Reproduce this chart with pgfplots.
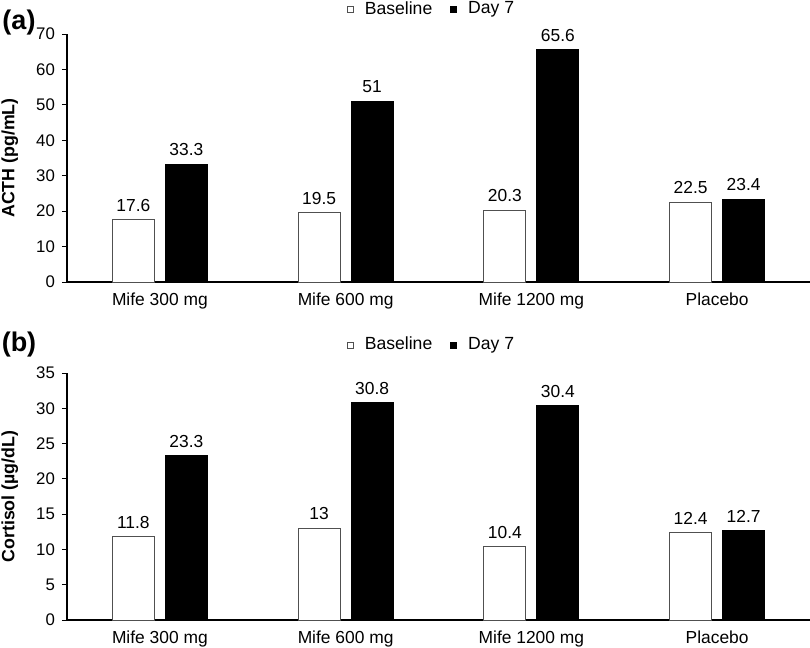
\documentclass[border=0pt]{standalone}
\usepackage{pgfplots}
\usepackage{pgfplotstable}
\pgfplotsset{compat=1.18}
\usepackage{fontspec}
\setmainfont{Liberation Sans}

\pgfplotstableread{
x base day
0 17.6 33.3
1 19.5 51
2 20.3 65.6
3 22.5 23.4
}\acth
\pgfplotstableread{
x base day
0 11.8 23.3
1 13 30.8
2 10.4 30.4
3 12.4 12.7
}\cortisol

\definecolor{edgegray}{RGB}{80,80,80}

\pgfplotsset{
  panel/.style={
    scale only axis,
    width=371.5pt,
    ybar=5.5pt, bar width=21pt,
    xmin=-0.5, xmax=3.5, ymin=0,
    axis x line*=bottom, axis y line*=left,
    axis line style={line width=0.6pt},
    clip=false,
    xtick={0,1,2,3},
    xticklabels={Mife 300 mg, Mife 600 mg, Mife 1200 mg, Placebo},
    x tick style={draw=none},
    y tick style={line width=0.5pt, black},
    tick align=outside, major tick length=2.5pt,
    yticklabel style={font=\fontsize{8.4}{10}\selectfont},
    xticklabel style={font=\fontsize{8.7}{10}\selectfont, yshift=0.5pt},
    /pgf/number format/assume math mode=true,
    nodes near coords,
    every node near coord/.append style={font=\fontsize{8.7}{10}\selectfont, yshift=0.5pt},
    ylabel style={at={(axis description cs:-0.077,0.5)}, anchor=center,
      font=\fontsize{8.9}{10}\selectfont\bfseries},
    legend columns=2,
    legend style={draw=none, fill=none, font=\fontsize{8.8}{10}\selectfont,
      anchor=center,
      /tikz/every odd column/.append style={column sep=3.5pt},
      /tikz/every even column/.append style={column sep=7pt}},
  },
  sq/.style={legend image code/.code={\draw[##1, line width=0.4pt] (0pt,-1.5pt) rectangle (3pt,1.5pt);}},
}

\begin{document}
\begin{tikzpicture}
\useasboundingbox (0,0) rectangle (405pt,-324pt);

\begin{axis}[panel,
    at={(33.5pt,-141pt)}, anchor=south west,
    height=124pt, ymax=70, ytick distance=10,
    ylabel={ACTH (pg/mL)},
    legend style={at={(axis description cs:0.492,1.1)}}]
  \addplot[fill=white, draw=edgegray, line width=0.5pt, sq] table[x=x, y=base] {\acth};
  \addlegendentry{Baseline}
  \addplot[fill=black, draw=black, line width=0.5pt, sq] table[x=x, y=day] {\acth};
  \addlegendentry{Day 7}
  \node[font=\fontsize{13.5}{14}\selectfont\bfseries] at (axis description cs:-0.0646,1.045) {(a)};
\end{axis}

\begin{axis}[panel,
    at={(33.5pt,-310pt)}, anchor=south west,
    height=123.5pt, ymax=35, ytick distance=5,
    ylabel={Cortisol (µg/dL)},
    legend style={at={(axis description cs:0.492,1.113)}}]
  \addplot[fill=white, draw=edgegray, line width=0.5pt, sq] table[x=x, y=base] {\cortisol};
  \addlegendentry{Baseline}
  \addplot[fill=black, draw=black, line width=0.5pt, sq] table[x=x, y=day] {\cortisol};
  \addlegendentry{Day 7}
  \node[font=\fontsize{13.5}{14}\selectfont\bfseries] at (axis description cs:-0.0646,1.117) {(b)};
\end{axis}
\end{tikzpicture}
\end{document}
